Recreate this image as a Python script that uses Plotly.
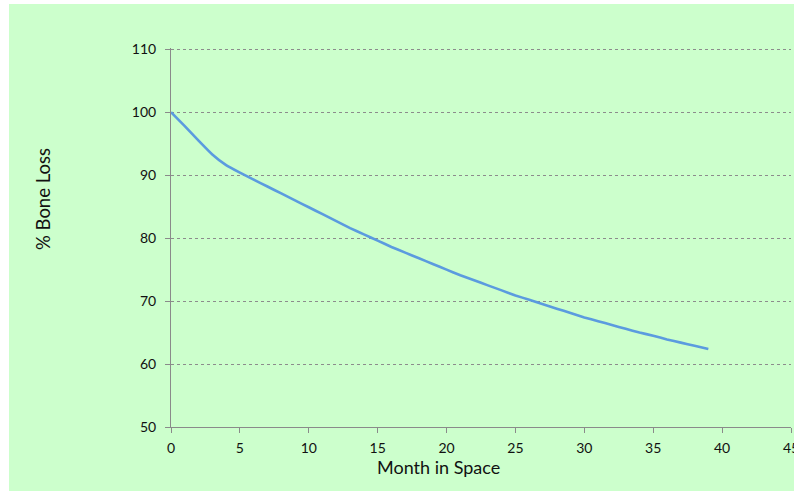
import plotly.graph_objects as go

months = list(range(0, 40))
bone_pct = [100.0, 97.8, 95.5, 93.3, 91.6, 90.4, 89.3, 88.2, 87.1, 86.0,
            84.9, 83.8, 82.7, 81.6, 80.6, 79.6, 78.6, 77.7, 76.8, 75.9,
            75.0, 74.1, 73.3, 72.5, 71.7, 70.9, 70.2, 69.5, 68.8, 68.1,
            67.4, 66.8, 66.2, 65.6, 65.0, 64.5, 63.9, 63.4, 62.9, 62.4]

x_title = "Month in Space"
y_title = "% Bone Loss"

W, H = 794, 491
L, R, T, B = 171, 3, 48, 64
pw, ph = W - L - R, H - T - B

def px_x(p):
    return (p - L) / pw

def px_y(p):
    return (H - B - p) / ph

fig = go.Figure()
fig.add_trace(go.Scatter(x=months, y=bone_pct, mode="lines",
                         line=dict(color="#5B9BDF", width=2.6, shape="spline", smoothing=0.3),
                         showlegend=False, hoverinfo="skip"))

font_fam = "Lato, 'Open Sans', sans-serif"
axis_col = "#8A8A8A"

fig.update_layout(
    width=W, height=H,
    margin=dict(l=L, r=R, t=T, b=B, pad=0, autoexpand=False),
    paper_bgcolor="white",
    plot_bgcolor="#CCFFCC",
    font=dict(family=font_fam, color="#111111", size=14),
    xaxis=dict(range=[0, 45], dtick=5, tick0=0, showgrid=False, zeroline=False,
               showline=True, linecolor=axis_col, linewidth=1, automargin=False,
               ticks="outside", ticklen=5, tickcolor=axis_col, tickwidth=1,
               ticklabelstandoff=3, ticklabeloverflow="allow",
               tickfont=dict(size=14, family=font_fam, color="#111111"), fixedrange=True),
    yaxis=dict(range=[50, 110.2], dtick=10, tick0=50, showgrid=True, gridcolor="#8C8C8C",
               griddash="3px,3px", gridwidth=1, zeroline=False, automargin=False,
               showline=True, linecolor=axis_col, linewidth=1,
               ticks="outside", ticklen=5, tickcolor=axis_col, tickwidth=1,
               ticklabelstandoff=6,
               tickfont=dict(size=14, family=font_fam, color="#111111"), fixedrange=True),
    shapes=[dict(type="rect", xref="paper", yref="paper", layer="below",
                 x0=px_x(9), x1=px_x(W + 5), y0=px_y(H + 5), y1=px_y(4),
                 fillcolor="#CCFFCC", line=dict(width=0))],
    annotations=[
        dict(text=x_title, xref="paper", yref="paper", x=px_x(438), y=px_y(467),
             showarrow=False, font=dict(size=18, family=font_fam, color="#111111"),
             xanchor="center", yanchor="middle"),
        dict(text=y_title, xref="paper", yref="paper", x=px_x(43), y=px_y(199),
             showarrow=False, textangle=-90, font=dict(size=18.5, family=font_fam, color="#111111"),
             xanchor="center", yanchor="middle"),
    ],
)

fig.write_html("out.html", config={"displayModeBar": False},
               post_script="document.body.style.margin='0';document.body.style.overflow='hidden';")
